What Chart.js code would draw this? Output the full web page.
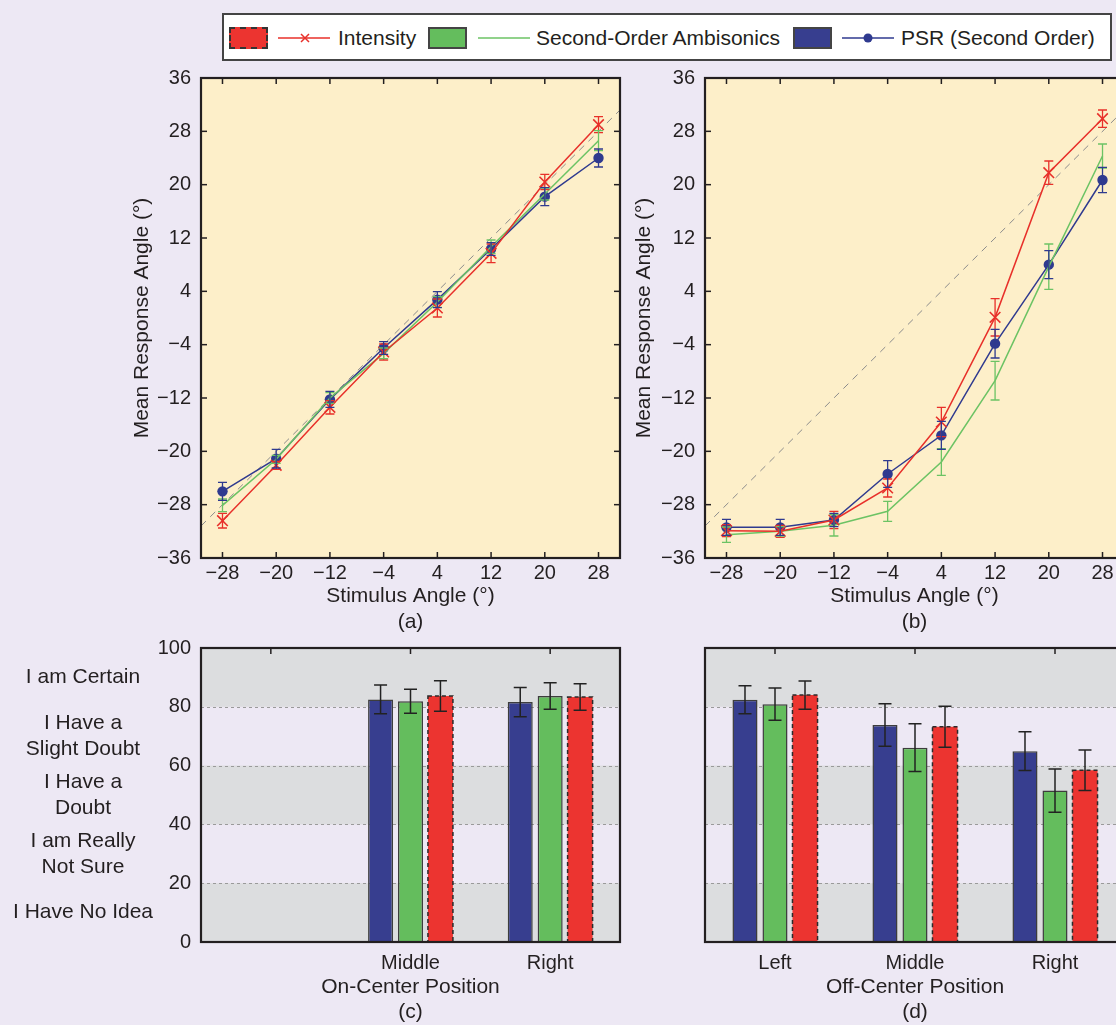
<!DOCTYPE html>
<html>
<head>
<meta charset="utf-8">
<script src="https://cdn.jsdelivr.net/npm/chart.js@4.4.1/dist/chart.umd.min.js"></script>
<style>
  html, body { margin: 0; padding: 0; width: 1116px; height: 1025px; overflow: hidden;
    background: #ede8f4; font-family: "Liberation Sans", Arial, sans-serif; color: #231f20; }
  .panel { position: absolute; }
  #legend { position: absolute; left: 222px; top: 13px; width: 890px; height: 48px;
    box-sizing: border-box; border: 2px solid #444; background: #fff; }
  #legend > * { position: absolute; }
  .swatch { top: 12px; width: 39px; height: 22px; box-sizing: border-box; }
  .key { top: 12px; }
  .txt { top: 10px; font-size: 21px; line-height: 26px; white-space: nowrap; }
</style>
</head>
<body>

<div id="legend">
  <div class="swatch" style="left:5px;background:#ec3430;border:2px dashed #333"></div>
  <svg class="key" style="left:54px" width="52" height="22"><line x1="0" y1="11" x2="52" y2="11" stroke="#e8302a" stroke-width="1.5"/><path d="M23 7 L31 15 M31 7 L23 15" stroke="#e8302a" stroke-width="1.5"/></svg>
  <div class="txt" style="left:114px">Intensity</div>
  <div class="swatch" style="left:204px;background:#64bd5d;border:2px solid #444"></div>
  <svg class="key" style="left:254px" width="52" height="22"><line x1="0" y1="11" x2="52" y2="11" stroke="#6cc364" stroke-width="1.5"/></svg>
  <div class="txt" style="left:312px">Second-Order Ambisonics</div>
  <div class="swatch" style="left:569px;background:#373e8f;border:2px solid #444"></div>
  <svg class="key" style="left:618px" width="52" height="22"><line x1="0" y1="11" x2="52" y2="11" stroke="#2f3a8f" stroke-width="1.5"/><circle cx="26" cy="11" r="4.5" fill="#2f3a8f"/></svg>
  <div class="txt" style="left:677px">PSR (Second Order)</div>
</div>

<div class="panel" style="left:100px;top:56px;width:540px;height:584px"><canvas id="chartA"></canvas></div>
<div class="panel" style="left:600px;top:56px;width:540px;height:584px"><canvas id="chartB"></canvas></div>
<div class="panel" style="left:0px;top:626px;width:640px;height:399px"><canvas id="chartC"></canvas></div>
<div class="panel" style="left:600px;top:626px;width:540px;height:399px"><canvas id="chartD"></canvas></div>

<script>
// stimulus angles (deg) and the response-angle tick values
const stimulusAngles = [-28, -20, -12, -4, 4, 12, 20, 28];
const angleTicks = [-36, -28, -20, -12, -4, 4, 12, 20, 28, 36];

// (a) on-center listening position: mean response angle and error
const onIntensity    = [-30.4, -22.1, -13.4, -5.1, 1.5, 9.7, 20.4, 29.0];
const onIntensityErr = [1.1, 0.6, 1.0, 1.2, 1.35, 1.4, 1.15, 1.2];
const onSoa          = [-28.1, -21.2, -12.0, -5.3, 2.4, 10.7, 18.6, 26.6];
const onSoaErr       = [0.95, 0.6, 0.8, 0.8, 0.8, 1.0, 0.9, 1.5];
const onPsr          = [-26.0, -21.1, -12.2, -4.5, 2.75, 10.35, 18.2, 24.0];
const onPsrErr       = [1.35, 1.4, 1.2, 0.95, 1.2, 0.95, 1.35, 1.35];

// (b) off-center listening position
const offIntensity    = [-31.9, -32.0, -30.3, -25.5, -15.6, 0.1, 21.8, 29.9];
const offIntensityErr = [0.9, 0.9, 1.3, 1.35, 2.2, 2.8, 1.75, 1.3];
const offSoa          = [-32.5, -32.0, -31.1, -29.0, -21.6, -9.4, 7.7, 24.3];
const offSoaErr       = [1.15, 0.7, 1.6, 1.5, 2.0, 2.9, 3.4, 1.8];
const offPsr          = [-31.4, -31.4, -30.3, -23.4, -17.6, -3.85, 8.0, 20.7];
const offPsrErr       = [1.2, 1.2, 1.0, 2.0, 2.1, 2.15, 2.1, 1.9];

// (c), (d) confidence ratings
const onPositions  = ['', 'Middle', 'Right'];
const offPositions = ['Left', 'Middle', 'Right'];
const onConfPsr          = [null, 82.5, 81.6];
const onConfPsrErr       = [null, 4.9, 5.0];
const onConfSoa          = [null, 81.9, 83.7];
const onConfSoaErr       = [null, 4.1, 4.5];
const onConfIntensity    = [null, 83.7, 83.3];
const onConfIntensityErr = [null, 5.2, 4.5];
const offConfPsr          = [82.4, 73.8, 64.9];
const offConfPsrErr       = [4.75, 7.2, 6.6];
const offConfSoa          = [80.9, 66.1, 51.5];
const offConfSoaErr       = [5.5, 8.1, 7.35];
const offConfIntensity    = [84.0, 73.2, 58.4];
const offConfIntensityErr = [4.8, 7.0, 6.9];

const confidenceTicks = [0, 20, 40, 60, 80, 100];
const certaintyLevels = [90, 70, 50, 30, 10];
const certaintyLabels = [['I am Certain'], ['I Have a', 'Slight Doubt'], ['I Have a', 'Doubt'],
                         ['I am Really', 'Not Sure'], ['I Have No Idea']];

const RED = '#e8302a', GREEN = '#6cc364', BLUE = '#2f3a8f';
const BAR_RED = '#ec3430', BAR_GREEN = '#64bd5d', BAR_BLUE = '#373e8f';
const TEXT = '#231f20';
const FONT = '"Liberation Sans", Arial, sans-serif';

Chart.defaults.font.family = FONT;
Chart.defaults.color = TEXT;
Chart.defaults.animation = false;

const fmt = v => (v < 0 ? '\u2212' + Math.abs(v) : String(v));
const toPoints = ys => ys.map((y, i) => ({ x: stimulusAngles[i], y: y }));

// background, bands, grid, error bars, ticks and frame of each panel
const framePlugin = {
  id: 'frame',
  beforeDatasetsDraw(chart, args, opts) {
    const { ctx, chartArea: a, scales: { x, y } } = chart;
    ctx.save();
    if (opts.fill) {
      ctx.fillStyle = opts.fill;
      ctx.fillRect(a.left, a.top, a.width, a.height);
    }
    (opts.bands || []).forEach(([lo, hi]) => {
      const t = y.getPixelForValue(hi), b = y.getPixelForValue(lo);
      ctx.fillStyle = opts.bandColor;
      ctx.fillRect(a.left, t, a.width, b - t);
    });
    if (opts.dotted) {
      ctx.strokeStyle = '#9a9a9a';
      ctx.lineWidth = 1;
      ctx.setLineDash([3, 3]);
      opts.dotted.forEach(v => {
        const py = Math.round(y.getPixelForValue(v)) + 0.5;
        ctx.beginPath(); ctx.moveTo(a.left, py); ctx.lineTo(a.right, py); ctx.stroke();
      });
      ctx.setLineDash([]);
    }
    if (opts.diagonal) {
      ctx.beginPath(); ctx.rect(a.left, a.top, a.width, a.height); ctx.clip();
      ctx.strokeStyle = '#8c8c8c';
      ctx.lineWidth = 1;
      ctx.setLineDash([7, 6]);
      ctx.beginPath();
      ctx.moveTo(x.getPixelForValue(x.min), y.getPixelForValue(x.min));
      ctx.lineTo(x.getPixelForValue(x.max), y.getPixelForValue(x.max));
      ctx.stroke();
    }
    ctx.restore();
  },
  afterDatasetsDraw(chart, args, opts) {
    const { ctx, chartArea: a, scales: { x, y } } = chart;
    ctx.save();
    chart.data.datasets.forEach((ds, i) => {
      const meta = chart.getDatasetMeta(i);
      if (ds.dashedBorder) {
        ctx.strokeStyle = '#2b2b2b';
        ctx.lineWidth = 1.5;
        ctx.setLineDash([4, 3]);
        meta.data.forEach((bar, j) => {
          if (ds.data[j] == null) return;
          const p = bar.getProps(['x', 'y', 'base', 'width'], true);
          ctx.strokeRect(p.x - p.width / 2, p.y, p.width, p.base - p.y);
        });
        ctx.setLineDash([]);
      }
      if (!ds.errors) return;
      ctx.strokeStyle = ds.errorColor || ds.borderColor;
      ctx.lineWidth = opts.errorWidth;
      meta.data.forEach((el, j) => {
        const raw = ds.data[j];
        const v = raw && typeof raw === 'object' ? raw.y : raw;
        const e = ds.errors[j];
        if (v == null || e == null) return;
        const px = el.x, hi = y.getPixelForValue(v + e), lo = y.getPixelForValue(v - e), c = opts.cap;
        ctx.beginPath();
        ctx.moveTo(px, hi); ctx.lineTo(px, lo);
        ctx.moveTo(px - c, hi); ctx.lineTo(px + c, hi);
        ctx.moveTo(px - c, lo); ctx.lineTo(px + c, lo);
        ctx.stroke();
      });
    });
    // inward tick marks
    ctx.strokeStyle = TEXT;
    ctx.lineWidth = 1.5;
    const tl = 6;
    x.ticks.forEach((t, i) => {
      const px = x.getPixelForTick(i);
      ctx.beginPath(); ctx.moveTo(px, a.top); ctx.lineTo(px, a.top + tl); ctx.stroke();
      if (opts.bottomTicks) {
        ctx.beginPath(); ctx.moveTo(px, a.bottom); ctx.lineTo(px, a.bottom - tl); ctx.stroke();
      }
    });
    if (opts.sideTicks) {
      y.ticks.forEach((t, i) => {
        const py = y.getPixelForTick(i);
        ctx.beginPath(); ctx.moveTo(a.left, py); ctx.lineTo(a.left + tl, py); ctx.stroke();
        ctx.beginPath(); ctx.moveTo(a.right, py); ctx.lineTo(a.right - tl, py); ctx.stroke();
      });
    }
    ctx.lineWidth = 2.2;
    ctx.strokeRect(a.left, a.top, a.width, a.height);
    ctx.restore();
  }
};

// verbal certainty scale next to panel (c)
const certaintyPlugin = {
  id: 'certainty',
  afterDraw(chart, args, opts) {
    if (!opts.labels) return;
    const { ctx, scales: { y } } = chart;
    ctx.save();
    ctx.font = '21px ' + FONT;
    ctx.fillStyle = TEXT;
    ctx.textAlign = 'center';
    ctx.textBaseline = 'middle';
    opts.labels.forEach((lines, i) => {
      const cy = y.getPixelForValue(opts.levels[i]);
      lines.forEach((t, k) => ctx.fillText(t, opts.x, cy + (k - (lines.length - 1) / 2) * 26));
    });
    ctx.restore();
  }
};

function angleChart(id, series, tag, yWidth, yTitlePad, rightPad) {
  new Chart(document.getElementById(id), {
    type: 'line',
    data: {
      datasets: [
        { label: 'Intensity', data: toPoints(series.intensity), errors: series.intensityErr,
          borderColor: RED, backgroundColor: RED, borderWidth: 1.5,
          pointStyle: 'crossRot', pointRadius: 7.5, pointBorderWidth: 1.6 },
        { label: 'Second-Order Ambisonics', data: toPoints(series.soa), errors: series.soaErr,
          borderColor: GREEN, backgroundColor: GREEN, borderWidth: 1.5, pointRadius: 0 },
        { label: 'PSR (Second Order)', data: toPoints(series.psr), errors: series.psrErr,
          borderColor: BLUE, backgroundColor: BLUE, borderWidth: 1.5,
          pointStyle: 'circle', pointRadius: 5.2, pointBorderWidth: 0 }
      ]
    },
    options: {
      responsive: true,
      maintainAspectRatio: false,
      layout: { padding: { top: 22, right: rightPad, left: 0, bottom: 0 } },
      plugins: {
        legend: { display: false },
        tooltip: { enabled: false },
        frame: { fill: '#fdefc9', diagonal: true, errorWidth: 1.3, cap: 4.5,
                 bottomTicks: true, sideTicks: true }
      },
      scales: {
        x: {
          type: 'linear', min: -31.2, max: 31.2,
          afterBuildTicks: s => { s.ticks = stimulusAngles.map(v => ({ value: v })); },
          afterFit: s => { s.height = 82; },
          grid: { display: false, drawTicks: false },
          border: { display: false },
          ticks: { callback: fmt, font: { size: 20 }, padding: 3, maxRotation: 0, autoSkip: false },
          title: { display: true, text: ['Stimulus Angle (\u00b0)', tag],
                   font: { size: 21, lineHeight: 26 / 21 }, padding: { top: 0, bottom: 5 } }
        },
        y: {
          type: 'linear', min: -36, max: 36,
          afterBuildTicks: s => { s.ticks = angleTicks.map(v => ({ value: v })); },
          afterFit: s => { s.width = yWidth; },
          grid: { display: false, drawTicks: false },
          border: { display: false },
          ticks: { callback: fmt, font: { size: 20 }, padding: 10 },
          title: { display: true, text: 'Mean Response Angle (\u00b0)',
                   font: { size: 21 }, padding: { top: yTitlePad, bottom: 0 } }
        }
      }
    },
    plugins: [framePlugin]
  });
}

function confidenceChart(id, labels, series, title, yWidth, rightPad, showY) {
  new Chart(document.getElementById(id), {
    type: 'bar',
    data: {
      labels: labels,
      datasets: [
        { label: 'PSR (Second Order)', data: series.psr, errors: series.psrErr, errorColor: '#222',
          backgroundColor: BAR_BLUE, borderColor: '#3d3d3d', borderWidth: 1.5 },
        { label: 'Second-Order Ambisonics', data: series.soa, errors: series.soaErr, errorColor: '#222',
          backgroundColor: BAR_GREEN, borderColor: '#3d3d3d', borderWidth: 1.5 },
        { label: 'Intensity', data: series.intensity, errors: series.intensityErr, errorColor: '#222',
          backgroundColor: BAR_RED, borderWidth: 0, dashedBorder: true }
      ]
    },
    options: {
      responsive: true,
      maintainAspectRatio: false,
      layout: { padding: { top: 22, right: rightPad, left: 0, bottom: 0 } },
      datasets: { bar: { categoryPercentage: 0.643, barPercentage: 0.835 } },
      plugins: {
        legend: { display: false },
        tooltip: { enabled: false },
        frame: { bands: [[0, 20], [40, 60], [80, 100]], bandColor: '#dcdddf',
                 dotted: [20, 40, 60, 80], errorWidth: 1.5, cap: 6.5,
                 bottomTicks: false, sideTicks: false },
        certainty: showY ? { labels: certaintyLabels, levels: certaintyLevels, x: 83 } : {}
      },
      scales: {
        x: {
          afterFit: s => { s.height = 83; },
          grid: { display: false, drawTicks: false },
          border: { display: false },
          ticks: { font: { size: 20 }, padding: 9, maxRotation: 0, autoSkip: false },
          title: { display: true, text: [title, '(' + id.slice(-1).toLowerCase() + ')'],
                   font: { size: 21, lineHeight: 25 / 21 }, padding: { top: 0, bottom: 0 } }
        },
        y: {
          min: 0, max: 100,
          afterBuildTicks: s => { s.ticks = confidenceTicks.map(v => ({ value: v })); },
          afterFit: s => { s.width = yWidth; },
          grid: { display: false, drawTicks: false },
          border: { display: false },
          ticks: { display: showY, font: { size: 20 }, padding: 10 }
        }
      }
    },
    plugins: [framePlugin, certaintyPlugin]
  });
}

angleChart('chartA',
  { intensity: onIntensity, intensityErr: onIntensityErr, soa: onSoa, soaErr: onSoaErr, psr: onPsr, psrErr: onPsrErr },
  '(a)', 101, 30, 20);
angleChart('chartB',
  { intensity: offIntensity, intensityErr: offIntensityErr, soa: offSoa, soaErr: offSoaErr, psr: offPsr, psrErr: offPsrErr },
  '(b)', 105, 32, 16);
confidenceChart('chartC', onPositions,
  { psr: onConfPsr, psrErr: onConfPsrErr, soa: onConfSoa, soaErr: onConfSoaErr, intensity: onConfIntensity, intensityErr: onConfIntensityErr },
  'On-Center Position', 201, 20, true);
confidenceChart('chartD', offPositions,
  { psr: offConfPsr, psrErr: offConfPsrErr, soa: offConfSoa, soaErr: offConfSoaErr, intensity: offConfIntensity, intensityErr: offConfIntensityErr },
  'Off-Center Position', 105, 15, false);
</script>
</body>
</html>
